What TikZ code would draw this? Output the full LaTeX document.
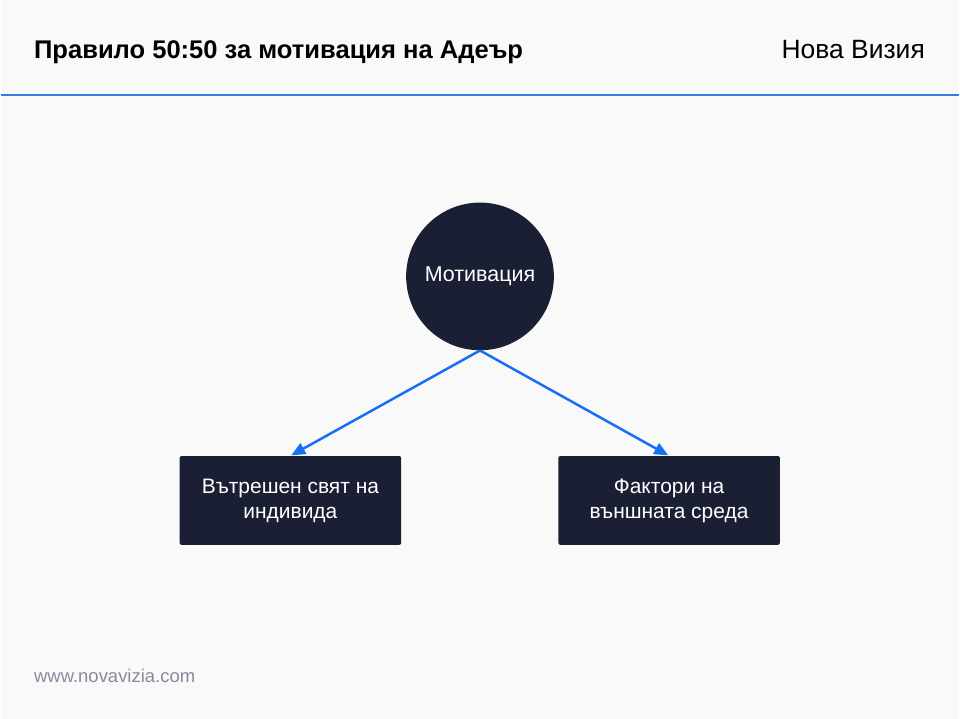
\documentclass[tikz,border=0pt]{standalone}
\usepackage{fontspec}
\setmainfont{Liberation Sans}
\usepackage{tikz}
\usetikzlibrary{shapes}
\usetikzlibrary{arrows.meta}
\definecolor{pagebg}{HTML}{F9F9F9}
\definecolor{navy}{HTML}{1A1F33}
\definecolor{linkblue}{HTML}{1670F5}
\definecolor{rulerblue}{HTML}{2F7FE6}
\definecolor{footgray}{HTML}{8A8A9A}
\tikzstyle{hub} = [circle,fill=navy,draw=none,inner sep=0pt,
minimum size=148pt, text=white, font=\fontsize{21.5}{25}\selectfont]
\tikzstyle{factorbox} = [rectangle, rounded corners=2pt, fill=navy, draw=none,
minimum width=222pt, minimum height=89pt, inner sep=0pt, text=white,
align=center, font=\fontsize{21}{25}\selectfont]
\tikzstyle{headline} = [anchor=base west, inner sep=0pt, font=\fontsize{25.6}{26}\selectfont\bfseries]
\tikzset{>={Triangle[length=14pt,width=12pt]}}
\newcommand{\edge}[3][]{ %
  % Connect all nodes #2 to all nodes #3.
  \foreach \x in {#2} { %
    \foreach \y in {#3} { %
      \path (\x) edge [->,#1] (\y) ;%
    } ;
  } ;
}

\begin{document}
\begin{tikzpicture}[x=1pt,y=1pt]
				\fill[pagebg] (0,0) rectangle (960,720);
				\draw[rulerblue, line width=2pt] (0,625) -- (960,625);

				\node[headline] (title) at (33,661) {Правило 50:50 за мотивация на Адеър} ; %
				\node[headline, anchor=base east, font=\fontsize{26.5}{27}\selectfont] (brand) at (926,661) {Нова Визия} ; %
				\node[anchor=base west, inner sep=0pt, text=footgray, font=\fontsize{18.5}{19}\selectfont] (site) at (33,36) {www.novavizia.com} ; %

				\node[hub] (m) at (480,443) {Мотивация} ; %
				\node[factorbox] (in) at (290,218.5) {Вътрешен свят на\\индивида} ; %
				\node[factorbox] (ex) at (669.5,218.5) {Фактори на\\външната среда} ; %

				\edge[linkblue, line width=2.5pt, shorten >=1pt] {m.south} {in.north,ex.north};
\end{tikzpicture}
\end{document}
